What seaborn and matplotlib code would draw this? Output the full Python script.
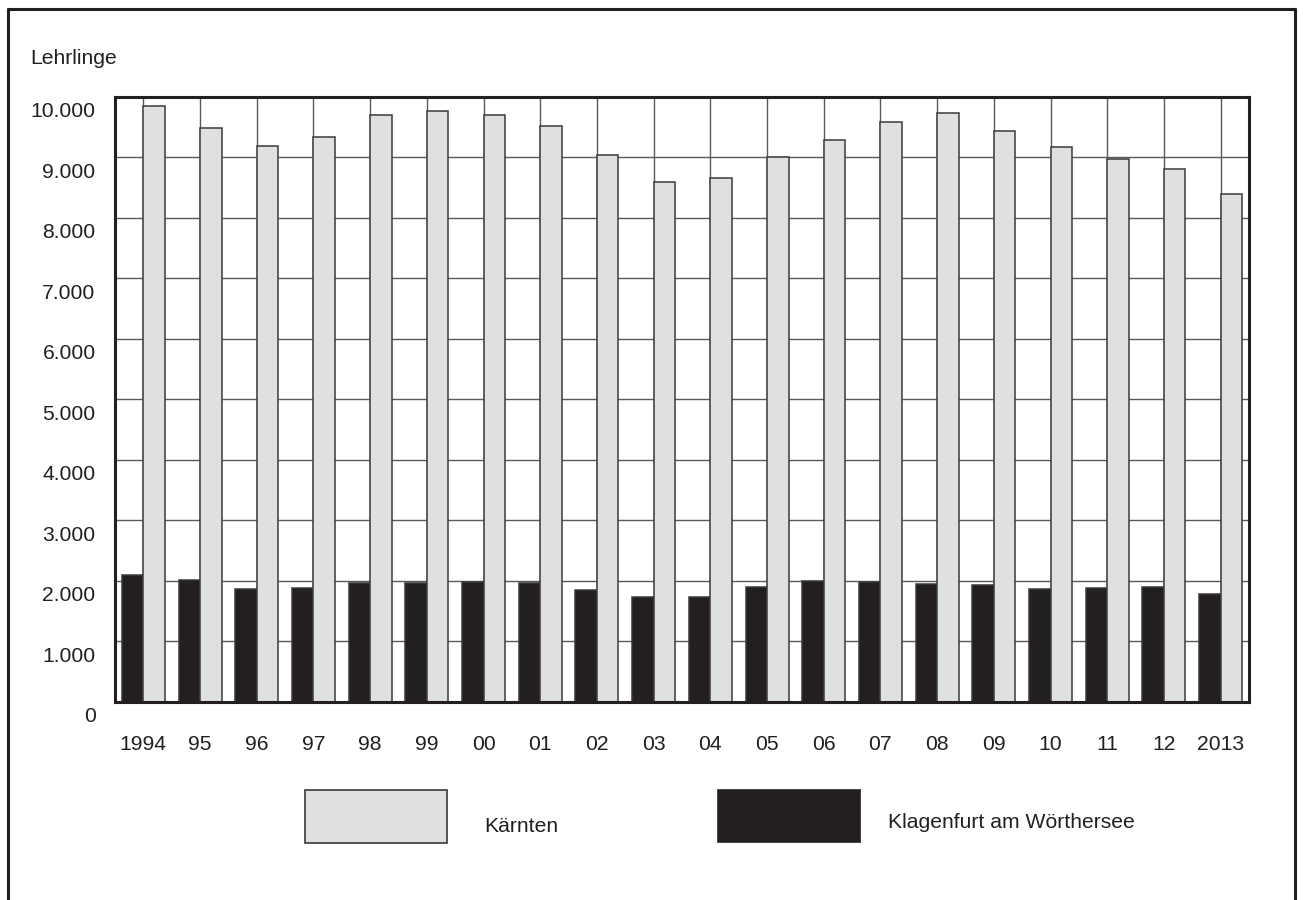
import matplotlib
matplotlib.use("Agg")
import matplotlib.pyplot as plt
import matplotlib.transforms as mtransforms
from matplotlib.patches import Rectangle
from matplotlib.lines import Line2D
from matplotlib.ticker import FuncFormatter, MultipleLocator
import seaborn as sns
import pandas as pd

# ---------------- data ----------------
years = ["1994", "95", "96", "97", "98", "99", "00", "01", "02", "03",
         "04", "05", "06", "07", "08", "09", "10", "11", "12", "2013"]
kaernten = [9850, 9480, 9180, 9330, 9700, 9765, 9690, 9520, 9040, 8595,
            8660, 9000, 9290, 9580, 9735, 9435, 9175, 8970, 8800, 8400]
klagenfurt = [2090, 2010, 1870, 1885, 1965, 1955, 1975, 1955, 1850, 1730,
              1725, 1890, 1995, 1975, 1945, 1925, 1860, 1885, 1900, 1785]
series_names = ["Klagenfurt am Wörthersee", "Kärnten"]
colors = {"Klagenfurt am Wörthersee": "#231F20", "Kärnten": "#DFE0E2"}
y_label = "Lehrlinge"

df = pd.DataFrame({
    "Jahr": years * 2,
    "Wert": klagenfurt + kaernten,
    "Serie": [series_names[0]] * len(years) + [series_names[1]] * len(years),
})

# ---------------- figure ----------------
sns.set_theme(style="white")
plt.rcParams["font.family"] = ["Liberation Sans", "DejaVu Sans"]
TXT = "#231F20"
FS = 15.2

W, H = 1303, 900
fig = plt.figure(figsize=(W / 100, H / 100), dpi=100)
ax = fig.add_axes([115 / W, 1 - 701.7 / H, (1249 - 115) / W, (701.7 - 96.7) / H])

sns.barplot(data=df, x="Jahr", y="Wert", hue="Serie", hue_order=series_names,
            order=years, palette=colors, width=0.76, edgecolor="#3A3A3A",
            linewidth=1.1, legend=False, ax=ax, saturation=1)

ax.set_xlim(-0.5, len(years) - 0.5)
ax.set_ylim(0, 10000)
ax.yaxis.set_major_locator(MultipleLocator(1000))
ax.yaxis.set_major_formatter(FuncFormatter(lambda v, p: f"{int(v):,}".replace(",", ".")))
ax.set_xlabel("")
ax.set_ylabel("")

ax.set_axisbelow(True)
ax.grid(True, axis="both", color="#5A5A5A", linewidth=1.0)

for s in ax.spines.values():
    s.set_visible(True)
    s.set_color("#231F20")
    s.set_linewidth(2.2)

ax.tick_params(axis="both", length=0, labelsize=FS, colors=TXT)
ax.tick_params(axis="y", pad=14)
ax.tick_params(axis="x", pad=24)

# y labels sit a bit below their gridlines
offset = mtransforms.ScaledTranslation(0, -13 / 100, fig.dpi_scale_trans)
for lab in ax.get_yticklabels():
    lab.set_transform(lab.get_transform() + offset)

fig.text(30 / W, 1 - 59 / H, y_label, fontsize=FS, color=TXT, ha="left", va="center")

# ---------------- legend ----------------
def add_key(x0, x1, y0, y1, color, edge, label, tx, ty):
    fig.add_artist(Rectangle((x0 / W, 1 - y1 / H), (x1 - x0) / W, (y1 - y0) / H,
                             transform=fig.transFigure, facecolor=color,
                             edgecolor=edge, linewidth=1.2))
    fig.text(tx / W, 1 - ty / H, label, fontsize=FS, color=TXT,
             ha="left", va="center")

add_key(305, 447, 790, 843, colors["Kärnten"], "#3A3A3A", "Kärnten", 484, 827)
add_key(718, 860, 790, 842, colors["Klagenfurt am Wörthersee"],
        colors["Klagenfurt am Wörthersee"], "Klagenfurt am Wörthersee", 888, 823)

# ---------------- outer frame (open at bottom) ----------------
frame_kw = dict(transform=fig.transFigure, color="#231F20", linewidth=2.2)
fig.add_artist(Line2D([8 / W, 8 / W], [0, 1 - 9 / H], **frame_kw))
fig.add_artist(Line2D([8 / W, 1295 / W], [1 - 9 / H, 1 - 9 / H], **frame_kw))
fig.add_artist(Line2D([1295 / W, 1295 / W], [1 - 9 / H, 0], **frame_kw))

fig.savefig("out.png", dpi=100, facecolor="white")
